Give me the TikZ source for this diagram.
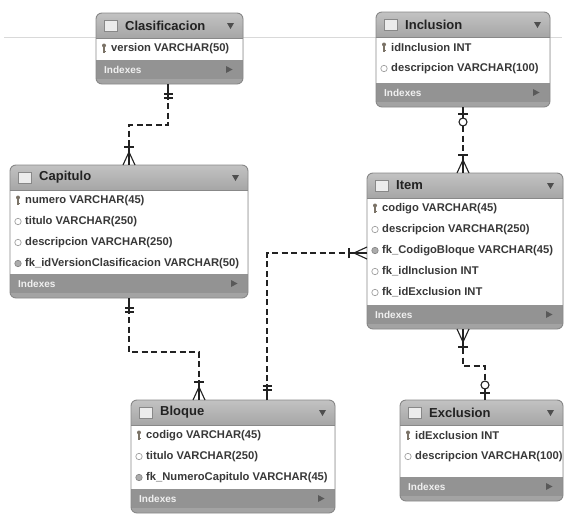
\documentclass[tikz,border=0pt]{standalone}
\usepackage{fontspec}
\setmainfont{Liberation Sans}
\usetikzlibrary{calc}

\definecolor{hdrtop}{HTML}{C2C2C2}
\definecolor{hdrbot}{HTML}{A6A6A6}
\definecolor{idxbar}{HTML}{939393}
\definecolor{idxstrip}{HTML}{A3A3A3}
\definecolor{rim}{HTML}{888888}
\definecolor{ink}{HTML}{222222}
\definecolor{keyc}{HTML}{9A9080}

\tikzset{
  frame/.style={fill=idxstrip, draw=none, rounded corners=6pt, inner sep=0pt, outer sep=0pt, anchor=north west},
  rimline/.style={draw=rim, line width=0.9pt, rounded corners=6pt},
  ttl/.style={font=\bfseries\fontsize{13}{13}\selectfont, text=ink, anchor=west, inner sep=0pt},
  colname/.style={font=\bfseries\fontsize{11.2}{12}\selectfont, text=ink!90, anchor=west, inner sep=0pt},
  idxname/.style={font=\bfseries\fontsize{10}{10}\selectfont, text=white!88!gray, anchor=west, inner sep=0pt},
  rel/.style={draw=ink, line width=1.3pt, dash pattern=on 6pt off 3.5pt},
  sym/.style={draw=ink, line width=1.1pt, solid},
  % relationship ends; local +x points away from the entity
  pics/crowfoot/.style={code={
    \draw[sym] (0pt,6pt) -- (13pt,0pt) -- (0pt,-6pt);
    \draw[sym] (0pt,0pt) -- (19pt,0pt);
    \draw[sym] (18pt,5pt) -- (18pt,-5pt);
  }},
  pics/onlyone/.style={code={
    \draw[sym] (0pt,0pt) -- (16pt,0pt);
    \draw[sym] (10pt,4.5pt) -- (10pt,-4.5pt);
    \draw[sym] (14pt,4.5pt) -- (14pt,-4.5pt);
  }},
  pics/zeroone/.style={code={
    \draw[sym] (0pt,0pt) -- (11pt,0pt);
    \draw[sym] (7pt,5pt) -- (7pt,-5pt);
    \draw[sym, fill=white] (15pt,0pt) circle (4pt);
  }},
}

% column icons, drawn around the origin
\newcommand\icok{%
  \draw[keyc!80!black, line width=1.3pt] (0pt,2pt) -- (0pt,-4.5pt);
  \fill[keyc!80!black] (0pt,3pt) circle (2pt);
  \draw[keyc!80!black, line width=1pt] (0pt,-2.5pt) -- (1.8pt,-2.5pt);
}
\newcommand\icoc{%
  \draw[rim!80, line width=0.7pt, fill=white] (0pt,0pt) circle (3.2pt);
}
\newcommand\icof{%
  \draw[rim, line width=0.7pt, fill=gray!65] (0pt,0pt) circle (3.2pt);
}

% entity box: name, left, top, width, body height, title, columns (kind/text)
\newcommand\erentity[7]{%
  \pgfmathsetmacro\erH{25+#5+24}%
  \node[frame, minimum width=#4pt, minimum height=\erH pt] (#1) at (#2,#3) {};
  \shade[top color=hdrtop, bottom color=hdrbot]
    ([yshift=-25pt]#1.north west) {[rounded corners=6pt] -- (#1.north west) -- (#1.north east)}
    -- ([yshift=-25pt]#1.north east) -- cycle;
  \fill[white] ([yshift=-25pt]#1.north west) rectangle ([yshift=-25pt-#5pt]#1.north east);
  \fill[idxbar] ([yshift=-25pt-#5pt]#1.north west) rectangle ([yshift=-44pt-#5pt]#1.north east);
  \draw[rimline] (#1.south west) rectangle (#1.north east);
  \draw[draw=rim, line width=0.6pt] ([yshift=-25pt]#1.north west) -- ([yshift=-25pt]#1.north east);
  \draw[draw=rim, fill=gray!15, line width=0.6pt]
    ([xshift=8pt,yshift=-7pt]#1.north west) rectangle ([xshift=21pt,yshift=-18pt]#1.north west);
  \node[ttl] (#1-title) at ([xshift=29pt,yshift=-12.5pt]#1.north west) {#6};
  \fill[ink!80] ([xshift=-16pt,yshift=-10pt]#1.north east) -- ++(7pt,0pt) -- ++(-3.5pt,-6pt) -- cycle;
  \foreach \k/\s [count=\i] in {#7} {
    \pgfmathsetmacro\ry{25+10.5+21*(\i-1)}
    \begin{scope}[shift={([xshift=8pt,yshift=-\ry*1pt]#1.north west)}]
      \csname ico\k\endcsname
    \end{scope}
    \node[colname] (#1-row\i) at ([xshift=15pt,yshift=-\ry*1pt]#1.north west) {\s};
  }
  \node[idxname] (#1-idx) at ([xshift=8pt,yshift=-34.5pt-#5pt]#1.north west) {Indexes};
  \fill[ink!75] ([xshift=-17pt,yshift=-31pt-#5pt]#1.north east) -- ++(0pt,-7pt) -- ++(6.5pt,3.5pt) -- cycle;
}

\begin{document}
\begin{tikzpicture}[x={(1pt,0pt)}, y={(0pt,-1pt)}]
  \fill[white] (0,0) rectangle (567,514);
  \useasboundingbox (0,0) rectangle (567,514);

  % page guide line
  \draw[gray!30, line width=0.7pt] (4,37) -- (562,37);

  \erentity{clas}{96}{13}{147}{22}{Clasificacion}{k/version VARCHAR(50)}
  \erentity{incl}{376}{12}{174}{46}{Inclusion}{k/idInclusion INT, c/descripcion VARCHAR(100)}
  \erentity{cap}{10}{165}{238}{84}{Capitulo}{k/numero VARCHAR(45), c/titulo VARCHAR(250), c/descripcion VARCHAR(250), f/fk\_idVersionClasificacion VARCHAR(50)}
  \erentity{item}{367}{173}{196}{107}{Item}{k/codigo VARCHAR(45), c/descripcion VARCHAR(250), f/fk\_CodigoBloque VARCHAR(45), c/fk\_idInclusion INT, c/fk\_idExclusion INT}
  \erentity{bloq}{131}{400}{204}{64}{Bloque}{k/codigo VARCHAR(45), c/titulo VARCHAR(250), f/fk\_NumeroCapitulo VARCHAR(45)}
  \erentity{excl}{400}{400}{163}{52}{Exclusion}{k/idExclusion INT, c/descripcion VARCHAR(100)}

  % bend points of the relationships
  \coordinate (b1) at (168,125);
  \coordinate (b2) at (129,125);
  \coordinate (b3) at (129,352);
  \coordinate (b4) at (199,352);
  \coordinate (b5) at (267,253);
  \coordinate (b6) at (463,140);
  \coordinate (b7) at (463,366);
  \coordinate (b8) at (485,366);

  % Clasificacion -> Capitulo
  \draw[rel] (clas.south -| b1) -- (b1) -- (b2) -- (b2 |- cap.north);
  \pic[rotate=-90] at (clas.south -| b1) {onlyone};
  \pic[rotate=90] at (b2 |- cap.north) {crowfoot};

  % Capitulo -> Bloque
  \draw[rel] (cap.south -| b3) -- (b3) -- (b4) -- (b4 |- bloq.north);
  \pic[rotate=-90] at (cap.south -| b3) {onlyone};
  \pic[rotate=90] at (b4 |- bloq.north) {crowfoot};

  % Bloque -> Item
  \draw[rel] (b5 |- bloq.north) -- (b5) -- (b5 -| item.west);
  \pic[rotate=90] at (b5 |- bloq.north) {onlyone};
  \pic[rotate=180] at (b5 -| item.west) {crowfoot};

  % Inclusion -> Item
  \draw[rel] (b6 |- incl.south) -- (b6 |- item.north);
  \pic[rotate=-90] at (b6 |- incl.south) {zeroone};
  \pic[rotate=90] at (b6 |- item.north) {crowfoot};

  % Item -> Exclusion
  \draw[rel] (item.south -| b7) -- (b7) -- (b8) -- (b8 |- excl.north);
  \pic[rotate=-90] at (item.south -| b7) {crowfoot};
  \pic[rotate=90] at (b8 |- excl.north) {zeroone};
\end{tikzpicture}
\end{document}
